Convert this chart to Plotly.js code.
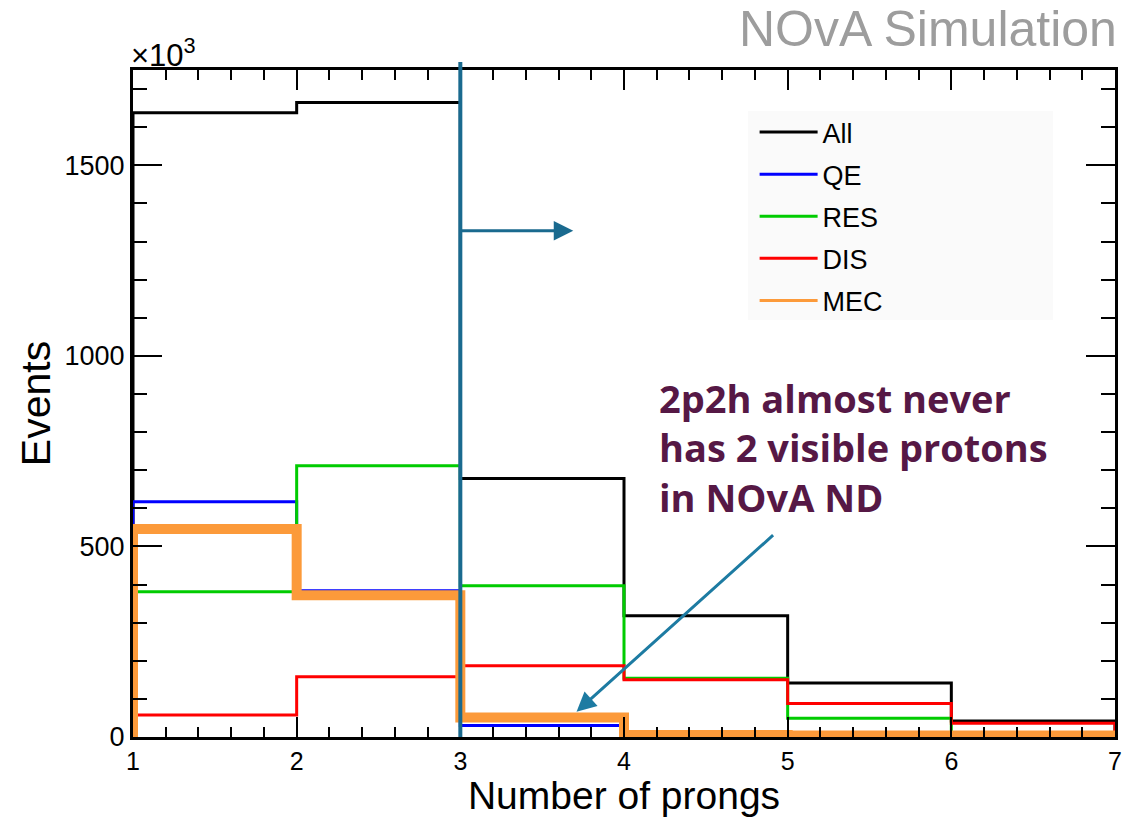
<!DOCTYPE html>
<html>
<head>
<meta charset="utf-8">
<script src="https://cdn.plot.ly/plotly-3.0.1.min.js"></script>
<style>html,body{margin:0;padding:0;background:#fff;}#chart{width:1143px;height:817px;}</style>
</head>
<body>
<div id="chart"></div>
<script>
// Bin edges (number of prongs)
const binEdges = [1, 2, 3, 4, 5, 6, 7];
// Events per bin, in units of 10^3
const allEvents = [1638, 1665, 678, 318, 142, 42];
const qeEvents  = [617, 384, 30, 3, 1, 0];
const resEvents = [381, 712, 397, 154, 49, 10];
const disEvents = [58, 158, 187, 150, 88, 36];
const mecEvents = [546, 372, 51, 5, 4, 4];

const seriesNames  = ['All', 'QE', 'RES', 'DIS', 'MEC'];
const seriesValues = [allEvents, qeEvents, resEvents, disEvents, mecEvents];
const seriesColors = ['#000000', '#0000ff', '#00cc00', '#ff0000', '#fc9a3a'];
const seriesWidths = [3, 3, 3, 3, 10];

const yTickVals = [0, 500, 1000, 1500];
const yTickText = ['0', '500', '1000', '1500'];
const xTickVals = [1, 2, 3, 4, 5, 6, 7];

// Annotation anchor points (data coordinates)
const cutX = 3;
const hArrowY = 1328, hArrowTipX = 3.69;
const dArrowTail = [4.92, 533], dArrowTip = [3.71, 66];

function histPath(edges, vals) {
  const xs = [edges[0]], ys = [0];
  for (let i = 0; i < vals.length; i++) { xs.push(edges[i]); ys.push(vals[i]); }
  xs.push(edges[edges.length - 1]); ys.push(vals[vals.length - 1]);
  xs.push(edges[edges.length - 1]); ys.push(0);
  return {xs, ys};
}

const traces = [];
seriesNames.forEach((name, i) => {
  const p = histPath(binEdges, seriesValues[i]);
  traces.push({
    type: 'scatter', mode: 'lines', x: p.xs, y: p.ys,
    line: {shape: 'hv', color: seriesColors[i], width: seriesWidths[i]},
    showlegend: false, hoverinfo: 'skip', cliponaxis: true
  });
});
// legend entries (thin line samples as in the reference)
seriesNames.forEach((name, i) => {
  traces.push({
    type: 'scatter', mode: 'lines', x: [null], y: [null], name: name,
    legendgroup: name,
    line: {color: seriesColors[i], width: 3}, showlegend: true
  });
});

const font = 'Liberation Sans, Arial, Helvetica, sans-serif';

const layout = {
  width: 1143, height: 817,
  margin: {l: 133, r: 28, t: 70, b: 80},
  paper_bgcolor: '#ffffff', plot_bgcolor: '#ffffff',
  font: {family: font, color: '#000'},
  showlegend: true,
  legend: {x: 0.633, y: 0.943, xanchor: 'left', yanchor: 'top',
           bgcolor: 'rgba(0,0,0,0)', borderwidth: 0,
           font: {size: 27, family: font, color: '#000'},
           itemwidth: 58, tracegroupgap: 4, traceorder: 'grouped'},
  xaxis: {
    range: [1, 7], tickvals: xTickVals, ticks: 'inside', ticklen: 20, tickwidth: 2,
    tickcolor: '#000', showline: true, linewidth: 3, linecolor: '#000',
    mirror: 'allticks', showgrid: false, zeroline: false,
    tickfont: {size: 25, family: font},
    minor: {dtick: 0.2, ticks: 'inside', ticklen: 10, tickwidth: 2, tickcolor: '#000', showgrid: false},
    title: {text: 'Number of prongs', font: {size: 39, family: font}, standoff: 6}
  },
  yaxis: {
    range: [0, 1750], tickvals: yTickVals, ticktext: yTickText, ticks: 'inside',
    ticklen: 29, tickwidth: 2, tickcolor: '#000', showline: true, linewidth: 3,
    linecolor: '#000', mirror: 'allticks', showgrid: false, zeroline: false,
    tickfont: {size: 27, family: font},
    minor: {dtick: 100, ticks: 'inside', ticklen: 14, tickwidth: 2, tickcolor: '#000', showgrid: false},
    title: {text: 'Events', font: {size: 41, family: font}, standoff: 2}
  },
  shapes: [
    {type: 'rect', xref: 'paper', yref: 'paper', x0: 0.6263, x1: 0.9369, y0: 0.6252, y1: 0.9385,
     fillcolor: '#fafafa', line: {width: 0}, layer: 'below'},
    {type: 'line', xref: 'x', yref: 'paper', x0: cutX, x1: cutX, y0: 0, y1: 1.012,
     line: {color: '#1a6a8f', width: 4}, layer: 'above'}
  ],
  annotations: [
    {xref: 'paper', yref: 'paper', x: 1.0, y: 1.062, xanchor: 'right', yanchor: 'middle', xshift: 4,
     text: 'NOvA Simulation', showarrow: false, font: {size: 50, color: '#9d9d9d', family: font}},
    {xref: 'paper', yref: 'paper', x: 0, y: 1.0, xanchor: 'left', yanchor: 'bottom', xshift: -4, yshift: -5,
     text: '×10<sup>3</sup>', showarrow: false, font: {size: 31, color: '#000', family: font}},
    {xref: 'x', yref: 'y', axref: 'x', ayref: 'y', x: hArrowTipX, y: hArrowY, ax: cutX, ay: hArrowY,
     text: '', showarrow: true, arrowhead: 2, arrowsize: 1.3, arrowwidth: 3, arrowcolor: '#1a6a8f', standoff: 0},
    {xref: 'x', yref: 'y', axref: 'x', ayref: 'y', x: dArrowTip[0], y: dArrowTip[1], ax: dArrowTail[0], ay: dArrowTail[1],
     text: '', showarrow: true, arrowhead: 2, arrowsize: 1.3, arrowwidth: 3, arrowcolor: '#1d7ba2', standoff: 0},
    {xref: 'paper', yref: 'paper', x: 0.5387, y: 0.4333, xanchor: 'left', yanchor: 'middle', align: 'left', xshift: -5,
     text: '<b>2p2h almost never<br>has 2 visible protons<br>in NOvA ND</b>', showarrow: false,
     font: {size: 38, color: '#561845', family: 'Open Sans, Lato, sans-serif'}}
  ]
};

Plotly.newPlot('chart', traces, layout, {displayModeBar: false, staticPlot: true});
</script>
</body>
</html>
